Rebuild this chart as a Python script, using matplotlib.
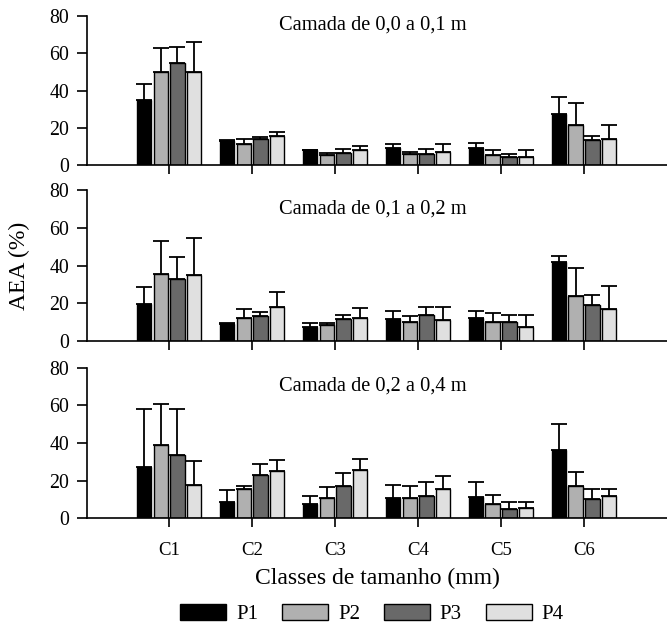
import matplotlib
matplotlib.use("Agg")
import matplotlib.pyplot as plt
import numpy as np
from matplotlib.patches import Patch

plt.rcParams['font.family'] = ['Liberation Serif', 'DejaVu Serif']

categories = ["C1", "C2", "C3", "C4", "C5", "C6"]
series = ["P1", "P2", "P3", "P4"]
titles = ["Camada de 0,0 a 0,1 m", "Camada de 0,1 a 0,2 m", "Camada de 0,2 a 0,4 m"]

# Layer 0.0-0.1 m: means and upper error (cap value - mean)
l1_mean = {
    "P1": [35.0, 13.0, 7.9, 9.3, 9.3, 27.2],
    "P2": [50.0, 11.1, 5.5, 5.9, 5.4, 21.3],
    "P3": [54.6, 13.8, 6.4, 5.9, 4.3, 13.4],
    "P4": [50.1, 15.7, 7.9, 7.0, 4.5, 14.0],
}
l1_err = {
    "P1": [8.5, 0.4, 0.3, 2.0, 2.7, 9.3],
    "P2": [12.8, 2.9, 0.8, 1.1, 2.7, 11.8],
    "P3": [8.6, 1.5, 2.0, 2.7, 1.6, 2.0],
    "P4": [15.8, 2.2, 2.3, 4.4, 3.7, 7.3],
}
# Layer 0.1-0.2 m
l2_mean = {
    "P1": [19.6, 9.2, 7.2, 11.7, 12.4, 41.9],
    "P2": [35.3, 12.4, 8.5, 10.2, 10.1, 23.8],
    "P3": [32.7, 13.2, 11.5, 13.8, 10.2, 19.2],
    "P4": [35.0, 18.2, 12.0, 11.1, 7.6, 16.8],
}
l2_err = {
    "P1": [9.0, 0.3, 2.3, 4.2, 3.5, 3.1],
    "P2": [17.7, 4.6, 1.0, 2.9, 4.6, 14.9],
    "P3": [11.6, 2.2, 2.3, 4.0, 3.6, 5.2],
    "P4": [19.4, 7.6, 5.7, 6.7, 6.2, 12.2],
}
# Layer 0.2-0.4 m
l3_mean = {
    "P1": [27.4, 8.5, 7.5, 10.5, 11.2, 36.4],
    "P2": [38.9, 15.5, 10.8, 10.7, 7.3, 17.1],
    "P3": [33.8, 23.1, 17.1, 11.6, 5.0, 10.0],
    "P4": [17.4, 24.9, 25.8, 15.5, 5.5, 11.6],
}
l3_err = {
    "P1": [30.6, 6.4, 4.2, 7.1, 8.0, 13.6],
    "P2": [22.1, 1.7, 5.7, 6.5, 5.0, 7.6],
    "P3": [24.5, 5.7, 6.7, 7.8, 3.5, 5.5],
    "P4": [13.2, 5.9, 5.8, 7.1, 3.0, 3.9],
}

colors = {"P1": "#000000", "P2": "#b0b0b0", "P3": "#696969", "P4": "#e0e0e0"}

fig = plt.figure(figsize=(6.67, 6.27), dpi=100)
left, right = 0.1304, 1.0
panels = [(0.7368, 0.2376), (0.4561, 0.2409), (0.1738, 0.2393)]
title_y = [0.94, 0.874, 0.88]
means = [l1_mean, l2_mean, l3_mean]
errs = [l1_err, l2_err, l3_err]

x = np.arange(len(categories))
step = 0.2
width = 0.175

for i, (bottom, height) in enumerate(panels):
    ax = fig.add_axes([left, bottom, right - left, height])
    for j, s in enumerate(series):
        pos = x + (j - 1.5) * step
        ax.bar(pos, means[i][s], width=width, color=colors[s], edgecolor="black",
               linewidth=1.0, zorder=2)
        ax.errorbar(pos, means[i][s], yerr=[np.zeros(len(categories)), errs[i][s]],
                    fmt="none", ecolor="black", elinewidth=1.3, capsize=6,
                    capthick=1.3, zorder=1)
    ax.set_xlim(-0.99, 6.0)
    ax.set_ylim(0, 80)
    ax.set_yticks([0, 20, 40, 60, 80])
    ax.set_xticks(x)
    for sp in ["top", "right"]:
        ax.spines[sp].set_visible(False)
    ax.spines["left"].set_linewidth(1.2)
    ax.spines["bottom"].set_linewidth(1.2)
    ax.tick_params(axis="y", direction="out", length=7, width=1.2, pad=6,
                   labelsize=14.3, colors="black")
    ax.tick_params(axis="x", direction="out", length=6.5, width=1.2,
                   labelsize=13.5, colors="black")
    if i < 2:
        ax.set_xticklabels([])
    else:
        ax.set_xticklabels(categories)
        ax.tick_params(axis="x", pad=11)
        ax.set_xlabel("Classes de tamanho (mm)", fontsize=17, labelpad=6)
    ax.text(0.493, title_y[i], titles[i], transform=ax.transAxes,
            ha="center", va="center", fontsize=14.7)

fig.text(0.029, 0.576, "AEA (%)", rotation=90, ha="center", va="center", fontsize=17)

handles = [Patch(facecolor=colors[s], edgecolor="black", linewidth=1.0, label=s)
           for s in series]
fig.legend(handles=handles, loc="center", bbox_to_anchor=(0.558, 0.020), ncol=4,
           frameon=False, fontsize=15, handlelength=2.2, handleheight=0.76,
           handletextpad=0.48, columnspacing=1.15, borderpad=0.2)

fig.savefig("out.png", dpi=100)
